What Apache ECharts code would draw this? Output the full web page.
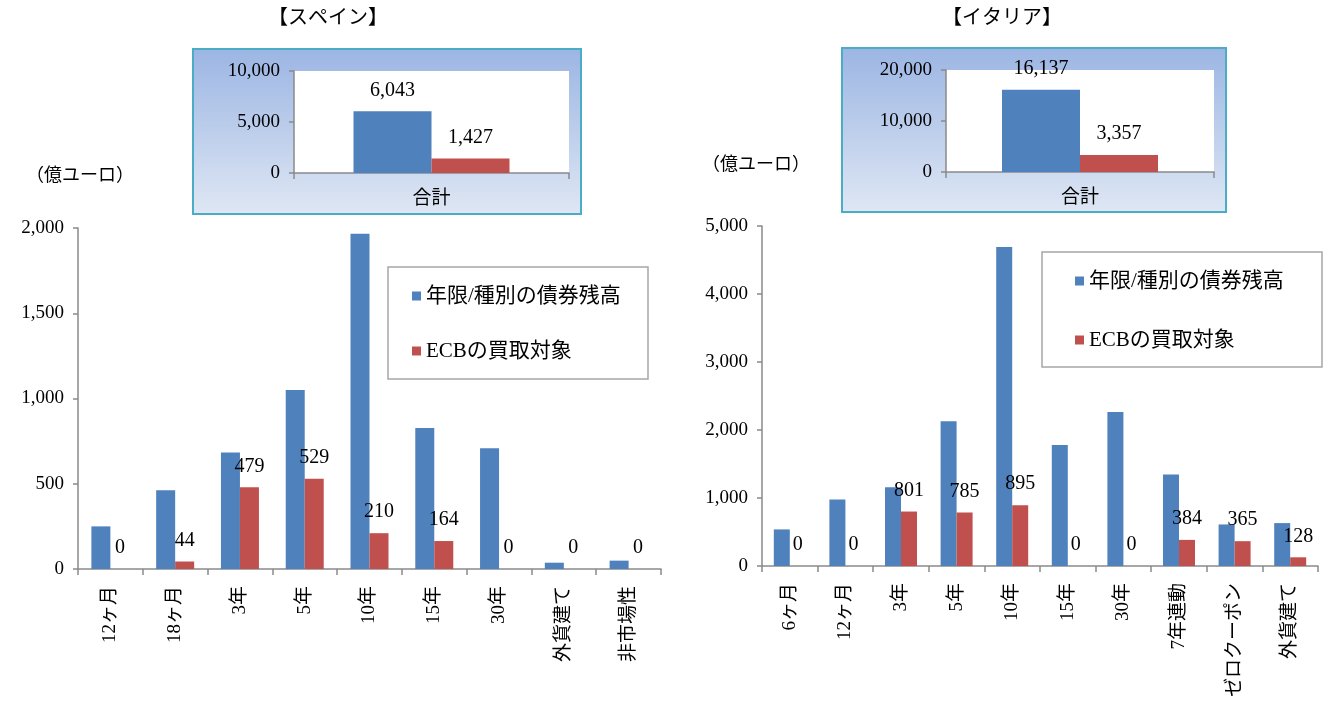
<!DOCTYPE html>
<html lang="ja">
<head>
<meta charset="UTF-8">
<title>スペイン・イタリア</title>
<style>
  html, body { margin: 0; padding: 0; background: #fff; }
</style>
</head>
<body>
<div id="main" style="width:1325px;height:702px;"></div>
<script src="https://cdn.jsdelivr.net/npm/echarts@6/dist/echarts.min.js"></script>
<script>
// スペイン
var esCats = ['12ヶ月', '18ヶ月', '3年', '5年', '10年', '15年', '30年', '外貨建て', '非市場性'];
var esTotal = [250, 462, 683, 1050, 1967, 827, 708, 37, 49];
var esEcb = [0, 44, 479, 529, 210, 164, 0, 0, 0];
var esSumTotal = [6043];
var esSumEcb = [1427];

// イタリア
var itCats = ['6ヶ月', '12ヶ月', '3年', '5年', '10年', '15年', '30年', '7年連動', 'ゼロクーポン', '外貨建て'];
var itTotal = [538, 978, 1159, 2128, 4692, 1781, 2265, 1345, 611, 631];
var itEcb = [0, 0, 801, 785, 895, 0, 0, 384, 365, 128];
var itSumTotal = [16137];
var itSumEcb = [3357];

var sumCats = ['合計'];
var nameTotal = '年限/種別の債券残高';
var nameEcb = 'ECBの買取対象';

var FONT = "'Liberation Serif', 'Noto Sans CJK JP', serif";
var BLUE = '#4f81bd';
var RED = '#c0504d';
var AXIS = '#8a8a8a';

function fmt(v) { return echarts.format.addCommas(v); }

function xAx(grid, data, rotate, size) {
    return {
        type: 'category', gridIndex: grid, data: data,
        axisLine: { lineStyle: { color: AXIS, width: 1.5 } },
        axisTick: { show: true, length: 6, lineStyle: { color: AXIS, width: 1.5 } },
        axisLabel: { rotate: rotate, color: '#000', fontSize: size, fontFamily: FONT, margin: 17 }
    };
}
function yAx(grid, max, interval, size) {
    return {
        type: 'value', gridIndex: grid, min: 0, max: max, interval: interval,
        splitLine: { show: false },
        axisLine: { show: true, lineStyle: { color: AXIS, width: 1.5 } },
        axisTick: { show: true, length: 5, lineStyle: { color: AXIS, width: 1.5 } },
        axisLabel: { color: '#000', fontSize: size, fontFamily: FONT, margin: 14, formatter: fmt }
    };
}
function bar(name, grid, data, color, width, label) {
    return {
        name: name, type: 'bar', xAxisIndex: grid, yAxisIndex: grid,
        data: data, barWidth: width, barGap: '0%',
        itemStyle: { color: color },
        label: {
            show: label, position: 'top', distance: 11, color: '#000',
            fontSize: 20, fontFamily: FONT,
            formatter: function (p) { return fmt(p.value); }
        }
    };
}
function legend(left, top, gap) {
    return {
        orient: 'vertical', left: left, top: top, itemGap: gap,
        itemWidth: 9, itemHeight: 9, icon: 'rect',
        textStyle: { fontSize: 21, fontFamily: FONT, color: '#000', lineHeight: 22 },
        data: [nameTotal, nameEcb]
    };
}

var myChart = echarts.init(document.getElementById('main'));

var option = {
    animation: false,
    graphic: [
        { type: 'text', left: 268, top: 9, style: { text: '【スペイン】', fontSize: 20, fontFamily: FONT, fill: '#000' } },
        { type: 'text', left: 942, top: 9, style: { text: '【イタリア】', fontSize: 20, fontFamily: FONT, fill: '#000' } },
        { type: 'text', left: 26, top: 167, style: { text: '（億ユーロ）', fontSize: 18, fontFamily: FONT, fill: '#000' } },
        { type: 'text', left: 702, top: 156, style: { text: '（億ユーロ）', fontSize: 18, fontFamily: FONT, fill: '#000' } },
        {
            type: 'rect', z: -10, shape: { x: 193, y: 49, width: 388, height: 165 },
            style: {
                fill: new echarts.graphic.LinearGradient(0, 0, 0, 1, [
                    { offset: 0, color: '#9bb5e3' }, { offset: 1, color: '#dfe7f4' }]),
                stroke: '#4bacc6', lineWidth: 2
            }
        },
        {
            type: 'rect', z: -10, shape: { x: 842, y: 48, width: 384, height: 164 },
            style: {
                fill: new echarts.graphic.LinearGradient(0, 0, 0, 1, [
                    { offset: 0, color: '#9bb5e3' }, { offset: 1, color: '#dfe7f4' }]),
                stroke: '#4bacc6', lineWidth: 2
            }
        },
        { type: 'rect', shape: { x: 388, y: 267, width: 260, height: 112 }, style: { fill: null, stroke: '#a6a6a6', lineWidth: 1.5 } },
        { type: 'rect', shape: { x: 1042, y: 252, width: 280, height: 115 }, style: { fill: null, stroke: '#a6a6a6', lineWidth: 1.5 } }
    ],
    legend: [legend(407, 280, 33), legend(1070, 265, 37)],
    grid: [
        { left: 78, top: 228, width: 583, height: 341 },
        { left: 762, top: 226, width: 556, height: 340 },
        { left: 294, top: 71, width: 275, height: 102, show: true, backgroundColor: '#fff', borderWidth: 0 },
        { left: 946, top: 70, width: 268, height: 102, show: true, backgroundColor: '#fff', borderWidth: 0 }
    ],
    xAxis: [
        xAx(0, esCats, 90, 19),
        xAx(1, itCats, 90, 19),
        xAx(2, sumCats, 0, 19),
        xAx(3, sumCats, 0, 19)
    ],
    yAxis: [
        yAx(0, 2000, 500, 19),
        yAx(1, 5000, 1000, 19),
        yAx(2, 10000, 5000, 19),
        yAx(3, 20000, 10000, 19)
    ],
    series: [
        bar(nameTotal, 0, esTotal, BLUE, 19, false),
        bar(nameEcb, 0, esEcb, RED, 19, true),
        bar(nameTotal, 1, itTotal, BLUE, 16, false),
        bar(nameEcb, 1, itEcb, RED, 16, true),
        bar(nameTotal, 2, esSumTotal, BLUE, 78, true),
        bar(nameEcb, 2, esSumEcb, RED, 78, true),
        bar(nameTotal, 3, itSumTotal, BLUE, 78, true),
        bar(nameEcb, 3, itSumEcb, RED, 78, true)
    ]
};

myChart.setOption(option);
</script>
</body>
</html>
